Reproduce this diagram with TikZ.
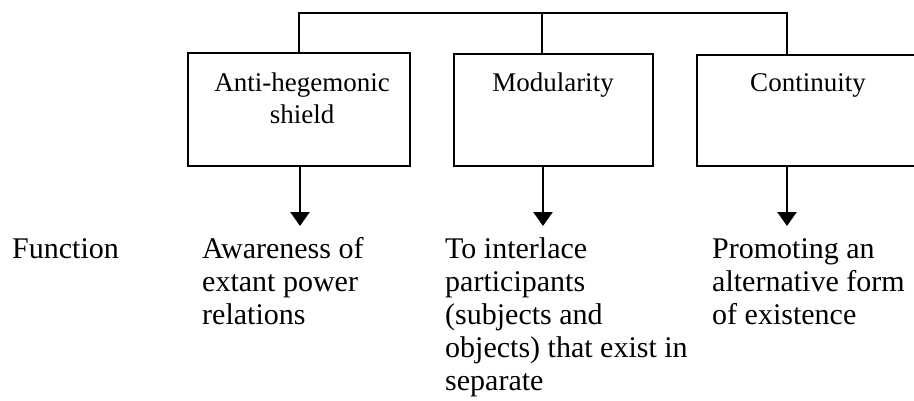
\documentclass[tikz,border=0pt]{standalone}
\usepackage{fontspec}
\setmainfont{Liberation Serif}
\usetikzlibrary{arrows.meta}
\begin{document}
\begin{tikzpicture}[x=1pt,y=-1pt,
  boxst/.style={draw, line width=1.6pt, inner sep=0pt},
  conn/.style={line width=1.6pt},
  arr/.style={line width=2.6pt, -{Triangle[length=14pt,width=19pt]}},
  boxtext/.style={font=\fontsize{27}{32}\selectfont, align=center, inner sep=0pt},
  lowtext/.style={font=\fontsize{30}{33}\selectfont, align=left, inner sep=0pt, anchor=base west}]
\useasboundingbox (0,0) rectangle (914,400);
\clip (0,0) rectangle (914,400);
% boxes
\node[boxst, minimum width=222pt, minimum height=113pt] (b1) at (299,109.5) {};
\node[boxst, minimum width=199pt, minimum height=112pt] (b2) at (553.5,110) {};
\node[boxst, minimum width=240pt, minimum height=111pt] (b3) at (817,110.5) {};
% box labels (base anchor = baseline of the last line)
\node[boxtext, anchor=base] (t1) at (302,123) {Anti-hegemonic\\shield};
\node[boxtext, anchor=base] (t2) at (553,91) {Modularity};
\node[boxtext, anchor=base] (t3) at (808,91) {Continuity};
% top bus
\coordinate (j1) at (299,13);
\coordinate (j2) at (542,13);
\coordinate (j3) at (787,13);
\draw[conn] (b1.north) -- (j1) -- (j3) -- (j3 |- b3.north);
\draw[conn] (j2) -- (j2 |- b2.north);
% arrow ends
\coordinate (e1) at (300,226);
\coordinate (e2) at (543,226);
\coordinate (e3) at (787,226);
\draw[arr] (e1 |- b1.south) -- (e1);
\draw[arr] (e2 |- b2.south) -- (e2);
\draw[arr] (e3 |- b3.south) -- (e3);
% lower texts (base anchor = baseline of the last line)
\node[lowtext] (f0) at (12,258) {Function};
\node[lowtext] (f1) at (202,324) {Awareness of\\extant power\\relations};
\node[lowtext] (f2) at (445,390) {To interlace\\participants\\(subjects and\\objects) that exist in\\separate};
\node[lowtext] (f3) at (712,324) {Promoting an\\alternative form\\of existence};
\end{tikzpicture}
\end{document}
